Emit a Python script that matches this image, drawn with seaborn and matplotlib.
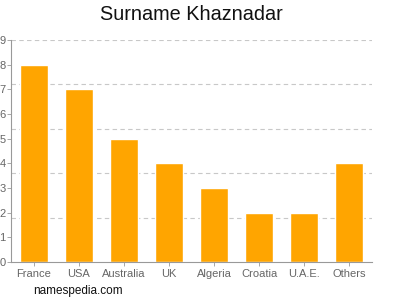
import matplotlib
matplotlib.use("Agg")
import matplotlib.pyplot as plt
import seaborn as sns
import numpy as np
import pandas as pd

countries = ["France", "USA", "Australia", "UK", "Algeria", "Croatia", "U.A.E.", "Others"]
counts = [8, 7, 5, 4, 3, 2, 2, 4]
ytick_values = [0, 1, 2, 3, 4, 5, 6, 7, 8, 9]
grid_values = [1.8, 3.6, 5.4, 7.2, 9.0]

sns.set_theme(style="white")
plt.rcParams["font.family"] = ["Liberation Sans", "DejaVu Sans"]

df = pd.DataFrame({"country": countries, "count": counts})

fig = plt.figure(figsize=(4, 3), dpi=100)
ax = fig.add_axes([0.0275, 0.1267, 0.9025, 0.74])

for g in grid_values:
    ax.axhline(g, color="#c8c8c8", linestyle=(0, (4, 3)), linewidth=0.8, zorder=0)

sns.barplot(data=df, x="country", y="count", color="#FFA500", saturation=1,
            width=0.62, ax=ax, zorder=2)

ax.set_ylim(0, 9)
ax.set_xlim(-0.5, len(countries) - 0.5)
ax.set_yticks(ytick_values)
ax.set_yticklabels([str(v) for v in ytick_values])
ax.set_xlabel("")
ax.set_ylabel("")

for s in ["top", "right"]:
    ax.spines[s].set_visible(False)
for s in ["left", "bottom"]:
    ax.spines[s].set_color("#999999")
    ax.spines[s].set_linewidth(0.8)

ax.tick_params(axis="y", which="both", left=True, length=3, width=0.6, color="#999999",
               labelsize=8, labelcolor="#666666", pad=1)
ax.tick_params(axis="x", which="both", bottom=True, length=3, width=0.6, color="#999999",
               labelsize=8, labelcolor="#666666", pad=2)

fig.text(0.4775, 0.952, "Surname Khaznadar", ha="center", va="center", fontsize=14.3, color="#111111")
fig.text(0.083, 0.03, "namespedia.com", ha="left", va="center", fontsize=8.5, color="#111111")

fig.savefig("out.png", dpi=100)
